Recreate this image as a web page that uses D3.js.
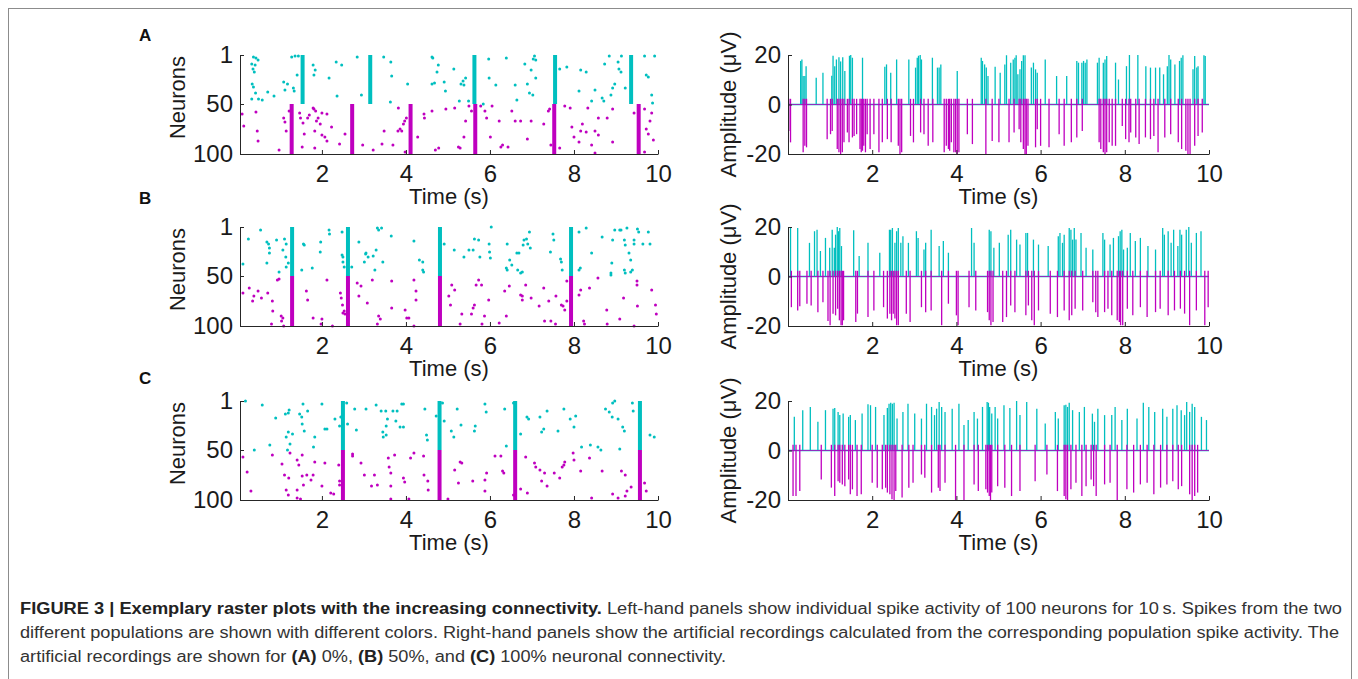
<!DOCTYPE html>
<html><head><meta charset="utf-8">
<script src="https://cdn.jsdelivr.net/npm/d3@7"></script>
<style>
html,body{margin:0;padding:0;background:#fff;}
svg{display:block;font-family:"Liberation Sans",Arial,Helvetica,sans-serif;}
</style></head>
<body>
<svg id="fig" width="1358" height="679"></svg>
<script>
// ---------------- DATA ----------------
const panelLabels = ["A", "B", "C"];
const xTicks = [2, 4, 6, 8, 10];
const neuronTicks = [1, 50, 100];
const ampTicks = [-20, 0, 20];
const xLabel = "Time (s)";
const rasterYLabel = "Neurons";
const ampYLabel = "Amplitude (\u03bcV)";

// population bursts (s)
const burstsA_cyan = [1.54, 3.15, 5.63, 7.55, 9.36];
const burstsA_magenta = [1.28, 2.72, 4.11, 5.65, 7.53, 9.54];
const burstsB_cyan = [1.29, 2.62, 4.81, 7.93];
const burstsB_magenta = [1.29, 2.62, 4.81, 7.93];
const burstsC_cyan = [2.50, 4.80, 6.60, 9.57];
const burstsC_magenta = [2.50, 4.80, 6.60, 9.57];

// scattered raster spikes [time (s), neuron]
const rasterA_cyan = [[0.37,3],[0.43,4],[0.48,6],[0.33,10],[0.41,11],[0.36,15],[0.39,18],[0.34,30],[0.37,33],[0.42,39],[0.33,45],[0.49,45],[0.58,46],[0.71,38],[0.86,42],[1.09,28],[1.12,36],[1.18,30],[1.28,3],[1.36,2],[1.32,34],[1.34,37],[1.41,21],[1.44,2],[1.79,11],[1.81,21],[1.84,16],[2.17,24],[2.34,8],[2.47,11],[2.36,42],[2.84,3],[2.94,41],[3.47,3],[3.64,8],[3.66,22],[3.63,48],[4.04,30],[4.62,3],[4.64,4],[4.77,11],[4.74,18],[4.68,29],[4.62,30],[4.91,28],[4.94,37],[5.14,15],[5.31,30],[5.27,47],[5.36,27],[5.42,24],[5.38,31],[5.49,47],[5.84,50],[5.97,5],[5.98,24],[6.14,31],[6.39,4],[6.60,31],[6.64,46],[6.83,10],[6.89,30],[6.94,39],[6.98,16],[7.03,5],[7.06,2],[7.09,6],[7.09,24],[7.02,41],[7.66,15],[7.83,13],[8.16,16],[8.29,18],[8.12,37],[8.42,47],[8.50,36],[8.67,44],[8.71,47],[8.73,10],[8.84,2],[8.97,30],[9.05,8],[9.07,15],[9.12,18],[9.13,2],[8.88,41],[8.92,34],[9.22,34],[9.68,2],[9.72,21],[9.77,23],[9.92,2],[9.85,41],[9.87,49]];
const rasterA_magenta = [[0.10,60],[0.14,72],[0.43,58],[0.46,77],[0.48,87],[0.98,96],[1.09,64],[1.12,68],[1.15,77],[1.22,57],[1.47,59],[1.49,64],[1.55,69],[1.53,93],[1.58,80],[1.66,64],[1.70,61],[1.79,54],[1.81,55],[1.85,57],[1.87,67],[1.83,77],[1.83,94],[1.91,64],[1.96,70],[2.00,59],[2.00,81],[2.07,83],[2.12,60],[2.23,73],[2.12,87],[2.42,90],[2.55,80],[2.97,91],[3.22,96],[3.43,90],[3.48,77],[3.69,91],[3.81,77],[3.86,75],[3.90,77],[3.94,70],[3.97,67],[4.01,64],[3.82,54],[3.98,98],[4.28,83],[4.43,60],[4.44,64],[4.62,57],[4.70,96],[4.78,94],[4.95,55],[5.16,54],[5.25,93],[5.29,94],[5.38,83],[5.42,67],[5.50,52],[5.56,57],[5.78,52],[5.88,57],[5.92,64],[6.01,83],[6.05,52],[6.22,67],[6.26,93],[6.30,91],[6.43,93],[6.52,57],[6.60,67],[6.73,67],[6.89,85],[6.98,67],[7.28,70],[7.39,57],[7.42,55],[7.45,91],[7.66,94],[7.78,52],[7.91,54],[7.95,73],[8.00,83],[8.12,88],[8.16,77],[8.20,70],[8.29,78],[8.33,54],[8.42,91],[8.50,77],[8.58,81],[8.58,64],[8.79,64],[8.92,55],[8.92,88],[8.50,99],[9.43,59],[9.68,55],[9.72,75],[9.77,80],[9.81,67],[9.85,59],[9.89,86],[9.68,98]];
const rasterB_cyan = [[0.12,38],[0.25,13],[0.54,4],[0.69,16],[0.73,18],[0.75,22],[0.75,27],[0.69,37],[0.92,14],[0.98,46],[1.07,24],[1.11,13],[1.15,18],[1.14,31],[1.20,37],[1.15,41],[1.56,18],[1.58,19],[1.52,44],[1.77,42],[1.97,16],[1.96,26],[2.17,4],[2.18,8],[2.48,6],[2.48,29],[2.50,31],[2.50,36],[2.53,41],[2.71,41],[2.88,16],[3.01,36],[3.04,28],[3.05,27],[3.10,31],[3.22,30],[3.29,24],[3.35,4],[3.32,2],[3.42,2],[3.26,44],[3.45,36],[3.65,10],[4.19,15],[4.32,34],[4.40,36],[4.42,46],[4.40,44],[4.91,18],[5.15,24],[5.38,31],[5.50,24],[5.60,24],[5.63,13],[5.73,14],[5.76,31],[5.98,18],[5.99,26],[6.01,32],[6.03,1],[6.39,42],[6.41,44],[6.41,18],[6.47,34],[6.52,39],[6.64,27],[6.66,44],[6.69,27],[6.73,47],[6.77,46],[6.79,19],[6.81,14],[6.87,13],[6.94,6],[6.96,22],[6.90,18],[7.44,26],[7.50,8],[7.52,14],[7.70,36],[7.68,33],[7.72,44],[8.12,6],[8.15,42],[8.12,44],[8.29,2],[8.42,27],[8.67,11],[8.88,47],[8.90,37],[8.92,14],[8.97,4],[9.09,4],[9.12,4],[9.20,14],[9.22,19],[9.26,2],[9.31,27],[9.35,34],[9.39,44],[9.35,46],[9.43,14],[9.43,18],[9.51,3],[9.54,6],[9.64,18],[9.77,6],[9.81,18],[9.20,44],[9.22,47],[8.88,49]];
const rasterB_magenta = [[0.12,67],[0.27,62],[0.38,70],[0.48,65],[0.35,75],[0.56,72],[0.71,67],[0.82,75],[0.83,85],[0.94,54],[0.98,53],[0.80,98],[1.03,90],[1.07,92],[1.04,95],[1.09,100],[1.63,65],[1.66,74],[1.79,92],[2.00,93],[1.98,98],[2.12,54],[2.25,100],[2.46,72],[2.49,79],[2.50,87],[2.55,88],[2.53,85],[2.44,67],[2.84,57],[2.88,70],[3.08,77],[2.93,60],[3.20,54],[3.35,90],[3.39,93],[3.32,98],[3.66,55],[3.66,82],[3.98,84],[4.02,92],[4.07,92],[4.19,54],[4.24,65],[4.24,74],[4.19,100],[5.02,70],[5.06,79],[5.09,59],[5.16,64],[5.29,98],[5.33,88],[5.56,88],[5.60,82],[5.63,79],[5.67,59],[5.73,54],[5.80,59],[5.81,98],[5.87,90],[5.97,74],[6.22,97],[6.35,65],[6.39,90],[6.46,60],[6.77,70],[6.73,69],[6.77,74],[6.85,59],[6.98,72],[7.17,80],[7.28,62],[7.30,95],[7.45,95],[7.56,98],[7.40,75],[7.57,70],[7.70,79],[7.74,80],[7.78,84],[7.83,75],[7.83,55],[8.12,69],[8.23,95],[8.25,98],[8.16,64],[8.37,62],[8.57,52],[8.78,84],[8.79,98],[9.09,93],[9.18,72],[9.43,100],[9.51,80],[9.50,55],[9.50,59],[9.85,64],[9.94,79],[9.96,88]];
const rasterC_cyan = [[0.18,1],[0.58,5],[0.39,50],[0.76,45],[0.90,18],[1.13,14],[1.20,13],[1.22,10],[1.15,37],[1.20,32],[1.24,44],[1.30,34],[1.18,50],[1.47,14],[1.52,17],[1.55,4],[1.53,24],[1.58,31],[1.66,11],[1.83,37],[1.80,47],[2.00,4],[2.07,29],[2.12,29],[2.31,19],[2.42,26],[2.45,17],[2.59,3],[2.61,24],[2.78,9],[2.82,30],[3.05,9],[3.29,5],[3.41,11],[3.52,11],[3.53,26],[3.56,19],[3.53,35],[3.45,32],[3.46,37],[3.69,11],[3.76,21],[3.79,11],[3.90,4],[3.94,4],[3.86,27],[3.94,27],[4.45,9],[4.49,35],[4.51,40],[4.72,16],[4.87,3],[4.91,21],[5.08,31],[5.14,37],[5.22,9],[5.31,25],[5.65,26],[5.63,31],[5.88,4],[5.91,12],[6.35,9],[6.39,46],[6.56,3],[6.73,34],[6.88,17],[6.92,19],[7.19,17],[7.23,32],[7.28,29],[7.36,11],[7.62,31],[7.76,9],[7.91,19],[8.00,27],[8.04,16],[8.18,47],[8.39,45],[8.57,47],[8.64,50],[8.75,9],[8.84,12],[8.91,17],[8.92,3],[8.97,1],[9.05,19],[9.09,49],[9.16,27],[9.20,31],[9.39,3],[9.41,11],[9.81,35],[9.91,37]];
const rasterC_magenta = [[0.12,57],[0.22,72],[0.31,91],[0.82,55],[1.05,64],[1.11,75],[1.21,78],[1.24,53],[1.15,90],[1.20,95],[1.41,60],[1.45,65],[1.53,55],[1.53,76],[1.56,85],[1.41,90],[1.41,98],[1.49,99],[1.64,75],[1.74,80],[1.79,75],[1.83,62],[2.00,86],[2.07,63],[2.21,93],[2.28,94],[2.40,65],[2.42,81],[2.42,85],[2.73,54],[2.73,56],[2.93,63],[3.01,75],[3.25,75],[3.18,86],[3.32,85],[3.58,58],[3.60,67],[3.64,73],[3.64,86],[3.64,99],[3.73,55],[3.94,78],[3.97,82],[4.07,99],[4.19,53],[4.11,58],[4.42,56],[4.43,75],[4.52,81],[4.53,90],[5.00,99],[5.16,70],[5.25,83],[5.29,62],[5.33,63],[5.59,81],[5.88,80],[5.88,91],[5.92,73],[6.12,56],[6.26,56],[6.30,71],[6.33,73],[6.56,95],[6.73,89],[6.85,57],[6.89,93],[7.06,63],[7.09,67],[7.19,70],[7.23,81],[7.30,73],[7.36,86],[7.53,73],[7.66,78],[7.72,67],[7.76,65],[7.78,62],[7.98,53],[8.00,60],[8.16,71],[8.37,58],[8.42,98],[8.67,71],[8.92,94],[9.05,98],[9.13,71],[9.22,75],[9.22,96],[9.26,91],[9.36,87],[9.68,83],[9.72,91]];

// artificial recordings: spike [time (s), peak amplitude (uV)]
const spikesA_cyan = [[0.30,17.6],[0.33,18.2],[0.36,11.5],[0.40,11.5],[0.43,15.5],[0.67,10.8],[0.83,12.8],[1.04,11.6],[1.07,19.7],[1.11,15.5],[1.15,18.2],[1.21,19.1],[1.25,17.4],[1.30,19.1],[1.35,13.5],[1.46,19.7],[1.49,20],[1.53,18.9],[1.77,18.9],[2.30,15.3],[2.34,16.2],[2.44,12.8],[2.58,18.2],[2.87,18.2],[3.03,14.9],[3.07,18.9],[3.10,19.7],[3.14,20],[3.17,18.2],[3.43,18.9],[3.55,14.9],[3.59,14.9],[3.63,16.2],[4.02,13.5],[4.59,18.9],[4.62,17.6],[4.67,16.2],[4.71,14.9],[4.75,11.5],[4.92,15.3],[5.04,12.8],[5.15,16.2],[5.19,19.9],[5.29,16.9],[5.35,18.2],[5.39,18.9],[5.42,19.9],[5.46,12.2],[5.51,14.2],[5.55,17.6],[5.59,19.9],[5.63,19.9],[5.78,14.9],[5.83,16.9],[5.88,14.2],[5.92,12.8],[6.11,18.2],[6.38,11.5],[6.62,11.5],[6.86,17.6],[6.90,16.9],[6.98,16.9],[7.02,17.6],[7.06,16.9],[7.10,18.2],[7.35,16.9],[7.39,18.9],[7.49,16.9],[7.53,18.2],[7.57,19.6],[7.78,16.9],[7.85,10.1],[8.04,15.5],[8.11,20],[8.31,20],[8.50,15.5],[8.61,14.9],[8.73,14.9],[8.83,14.9],[8.92,12.2],[9.01,15.5],[9.05,20],[9.09,18.2],[9.19,16.2],[9.30,17.6],[9.34,18.9],[9.38,19.9],[9.62,14.2],[9.66,19.6],[9.71,14.9],[9.74,15.5],[9.88,19.9],[9.91,19.6]];
const spikesA_magenta = [[0.02,-10.7],[0.06,-15.3],[0.36,-19.3],[0.40,-16.7],[0.44,-17.3],[0.93,-14],[1.01,-12],[1.05,-10.7],[1.17,-18],[1.21,-19.3],[1.25,-20],[1.29,-19.3],[1.33,-15.3],[1.41,-11.3],[1.45,-15.3],[1.53,-13.3],[1.57,-12.7],[1.63,-12],[1.71,-18],[1.74,-19.3],[1.77,-18.7],[1.80,-16.7],[1.84,-19.3],[1.88,-12],[1.95,-18],[2.04,-12],[2.16,-19.3],[2.24,-15.3],[2.36,-14],[2.45,-15.3],[2.62,-16.7],[2.66,-20],[2.70,-19.3],[2.91,-12.7],[2.98,-15.3],[3.15,-11.3],[3.23,-12],[3.33,-16.7],[3.44,-15.3],[3.71,-19.3],[3.76,-16.7],[3.81,-18],[3.84,-18.7],[3.88,-15.3],[3.94,-19.3],[3.98,-19.3],[4.02,-20],[4.06,-19.3],[4.26,-12],[4.38,-16],[4.70,-20],[4.85,-14.7],[5.01,-15.3],[5.25,-15.3],[5.37,-11.3],[5.49,-10],[5.53,-15.3],[5.59,-18],[5.63,-20],[5.66,-20],[5.70,-16.7],[5.88,-17.3],[5.92,-10],[6.00,-16.7],[6.20,-17.3],[6.44,-12],[6.56,-16.7],[6.73,-15.3],[6.86,-13.3],[6.99,-10.7],[7.39,-15.3],[7.43,-18],[7.49,-19.3],[7.53,-20],[7.57,-19.3],[7.63,-15.3],[7.70,-16.7],[7.78,-16.7],[7.94,-8.7],[8.02,-14],[8.10,-15.3],[8.14,-11.3],[8.26,-13.3],[8.34,-16],[8.49,-13.3],[8.61,-14],[8.69,-12.7],[8.79,-19.3],[8.95,-13.3],[9.09,-12],[9.27,-15.3],[9.35,-18],[9.45,-18.7],[9.50,-20],[9.55,-20],[9.66,-16.7],[9.74,-12.7],[9.84,-11.3]];
const spikesB_cyan = [[0.06,20],[0.23,19.6],[0.51,13.6],[0.63,18.3],[0.69,18.9],[0.77,10.3],[0.89,15.6],[0.99,11.6],[1.05,18.9],[1.10,11.6],[1.13,16.9],[1.17,20],[1.20,18.3],[1.23,19.6],[1.27,12.3],[1.56,18.7],[1.69,8.3],[1.90,13.6],[2.18,9.6],[2.41,18.9],[2.44,18.9],[2.48,19.6],[2.54,13.6],[2.58,18.3],[2.62,19.6],[2.68,13.6],[2.73,16.3],[2.86,13.6],[3.05,18.3],[3.09,15.6],[3.23,10.9],[3.27,13.6],[3.40,18.9],[3.59,12.3],[3.69,14.3],[3.81,9.6],[4.36,19.6],[4.42,13.6],[4.78,18.9],[4.82,18.3],[4.89,11.6],[5.02,13.6],[5.23,16.9],[5.29,18.9],[5.43,14.9],[5.51,12.9],[5.65,17.6],[5.69,17.6],[5.83,14.9],[5.95,12.9],[6.18,12.3],[6.42,16.3],[6.46,17.6],[6.52,13.6],[6.56,16.9],[6.68,19.6],[6.72,18.9],[6.76,14.9],[6.80,19.6],[6.84,14.9],[6.96,17.6],[7.08,11.6],[7.24,10.9],[7.48,17.6],[7.52,14.9],[7.65,12.9],[7.73,15.6],[7.85,16.3],[7.89,18.3],[7.93,18.9],[7.97,10.9],[8.06,11.6],[8.13,17.6],[8.25,14.3],[8.37,15.6],[8.55,12.3],[8.73,10.9],[8.90,19.6],[8.94,16.9],[9.03,18.3],[9.10,13.6],[9.16,18.9],[9.26,12.3],[9.31,18.9],[9.35,16.9],[9.46,18.9],[9.52,20],[9.58,13.6],[9.70,17.6],[9.81,18.3]];
const spikesB_magenta = [[0.08,-12.4],[0.23,-13.7],[0.28,-12],[0.45,-11],[0.55,-11.7],[0.71,-14.4],[0.83,-10.4],[0.95,-18],[1.00,-19.7],[1.07,-15],[1.13,-15.7],[1.18,-13],[1.22,-17.7],[1.26,-19.7],[1.29,-19.7],[1.32,-17.7],[1.61,-18.4],[1.65,-15],[1.90,-16.4],[2.04,-13.7],[2.27,-12.4],[2.36,-17],[2.42,-15],[2.46,-17.7],[2.50,-15],[2.54,-17],[2.58,-19.7],[2.62,-19.7],[2.81,-15],[2.90,-18.4],[3.17,-12.4],[3.27,-14.4],[3.40,-13.7],[3.65,-19.7],[3.81,-11],[4.00,-15.7],[4.04,-19.7],[4.30,-12.4],[4.46,-13.7],[4.74,-14.4],[4.78,-17.7],[4.82,-19.7],[4.87,-18.4],[5.10,-18.4],[5.19,-16.4],[5.29,-11.7],[5.39,-14.4],[5.65,-15.7],[5.71,-11.7],[5.79,-17.7],[5.85,-19.7],[5.95,-13.7],[6.23,-15],[6.40,-16.4],[6.56,-13.7],[6.68,-17.7],[6.74,-15.7],[6.82,-13],[7.00,-13.7],[7.24,-10.4],[7.31,-14.4],[7.36,-16.4],[7.52,-14.4],[7.60,-13],[7.69,-15.7],[7.82,-17.7],[7.87,-18.4],[7.90,-19.7],[7.95,-19.7],[8.06,-13],[8.19,-15.7],[8.37,-12.4],[8.53,-16.4],[8.73,-14.4],[8.84,-13],[9.03,-15.7],[9.18,-13.7],[9.32,-13],[9.42,-15],[9.54,-19.7],[9.70,-13.7],[9.90,-19.7],[9.98,-12.4]];
const spikesC_cyan = [[0.15,13.6],[0.35,16.3],[0.53,17.6],[0.71,11.6],[0.89,16.3],[1.07,16.9],[1.11,17.2],[1.19,15.6],[1.23,14.3],[1.31,14.9],[1.44,13.6],[1.48,14.3],[1.60,12.3],[1.76,14.9],[1.90,18.7],[1.96,18.3],[2.08,17.6],[2.28,14.3],[2.36,17.2],[2.40,18.9],[2.44,19.3],[2.48,18.9],[2.52,19.3],[2.59,12.9],[2.73,15.6],[2.85,18.9],[3.01,14.9],[3.17,12.9],[3.29,18.9],[3.41,17.6],[3.48,14.3],[3.53,16.9],[3.59,19.6],[3.65,17.6],[3.73,15.6],[3.90,16.9],[4.06,18.9],[4.18,10.3],[4.28,12.3],[4.42,15.6],[4.50,12.9],[4.62,17.6],[4.73,19.6],[4.76,19.3],[4.79,17.6],[4.84,14.9],[4.92,17.6],[4.98,12.9],[5.13,18.3],[5.27,17.2],[5.43,20],[5.51,14.3],[5.67,19.6],[5.91,16.9],[6.11,10.9],[6.35,15.6],[6.42,12.9],[6.56,18.3],[6.60,18.5],[6.64,17.6],[6.68,19.3],[6.76,16.3],[6.92,15.6],[7.04,17.6],[7.23,14.9],[7.28,11.6],[7.36,16.9],[7.52,14.3],[7.69,14.3],[7.77,17.6],[7.93,12.3],[8.06,16.9],[8.29,12.9],[8.44,19.3],[8.57,17.6],[8.71,15.6],[8.90,16.9],[9.00,13.6],[9.14,16.9],[9.24,18.3],[9.34,16.3],[9.42,14.3],[9.47,19.6],[9.54,15.6],[9.60,18.9],[9.66,17.6],[9.82,13.6],[9.94,12.3]];
const spikesC_magenta = [[0.12,-18.4],[0.19,-18.4],[0.28,-16.4],[0.79,-11.7],[1.03,-15],[1.11,-18.4],[1.19,-12.4],[1.23,-13],[1.29,-13.7],[1.35,-14.4],[1.44,-11.7],[1.48,-17.7],[1.53,-15.7],[1.64,-18.4],[1.74,-17.7],[2.00,-13],[2.12,-15],[2.24,-15.7],[2.32,-15],[2.36,-17],[2.42,-17.7],[2.47,-19.7],[2.52,-20],[2.56,-16.4],[2.71,-19],[2.87,-15],[2.97,-13],[3.17,-9.7],[3.25,-11],[3.41,-17],[3.57,-15],[3.61,-16.4],[3.73,-13],[3.98,-20],[4.18,-20],[4.42,-13.7],[4.52,-16.4],[4.70,-15.7],[4.74,-17],[4.78,-18.4],[4.81,-20],[4.84,-17],[4.98,-14.4],[5.15,-15],[5.31,-18.4],[5.51,-16.4],[5.87,-12.4],[6.15,-9.7],[6.40,-16.4],[6.56,-18.4],[6.60,-19.7],[6.64,-20],[6.72,-15.7],[6.84,-13],[6.98,-18.4],[7.08,-14.4],[7.20,-11.7],[7.26,-14.4],[7.32,-18.4],[7.52,-13.7],[7.65,-13],[7.82,-20],[8.05,-15.7],[8.21,-17],[8.37,-13.7],[8.53,-13],[8.69,-17.7],[8.85,-15],[9.00,-13.7],[9.14,-12.4],[9.27,-15.7],[9.35,-14.4],[9.54,-17.7],[9.60,-20],[9.66,-18.4],[9.73,-17]];
const magentaOvershoot = 2.3; // small positive deflection of each spike of the second population (uV)

const captionBold1 = "FIGURE 3 | Exemplary raster plots with the increasing connectivity.";
const captionLine1 = " Left-hand panels show individual spike activity of 100 neurons for 10\u2009s. Spikes from the two";
const captionLine2 = "different populations are shown with different colors. Right-hand panels show the artificial recordings calculated from the corresponding population spike activity. The";
const captionLine3 = [["artificial recordings are shown for ", false], ["(A)", true], [" 0%, ", false], ["(B)", true], [" 50%, and ", false], ["(C)", true], [" 100% neuronal connectivity.", false]];

// ---------------- LAYOUT / STYLE ----------------
const CYAN = "#00bfbf", MAGENTA = "#bf00bf", AXIS = "#262626";
const panelTops = [55, 227, 401];
const panelH = 99;
const rasterRange = [240, 658], rasterDomain = [0.05, 10];
const ampRange = [788, 1209], ampDomain = [0, 10];
const labelY = [35, 198, 378];

const panels = [
  {cyanR: rasterA_cyan, magR: rasterA_magenta, cyanB: burstsA_cyan, magB: burstsA_magenta, cyanS: spikesA_cyan, magS: spikesA_magenta},
  {cyanR: rasterB_cyan, magR: rasterB_magenta, cyanB: burstsB_cyan, magB: burstsB_magenta, cyanS: spikesB_cyan, magS: spikesB_magenta},
  {cyanR: rasterC_cyan, magR: rasterC_magenta, cyanB: burstsC_cyan, magB: burstsC_magenta, cyanS: spikesC_cyan, magS: spikesC_magenta}
];

const svg = d3.select("#fig");
svg.append("rect").attr("x", 8.5).attr("y", 8.5).attr("width", 1343).attr("height", 720)
  .attr("fill", "none").attr("stroke", "#8c8c8c").attr("stroke-width", 1);

function styleAxis(g) {
  g.selectAll(".domain").attr("stroke", AXIS).attr("stroke-width", 1);
  g.selectAll(".tick line").attr("stroke", AXIS).attr("stroke-width", 1);
  g.selectAll(".tick text").attr("fill", "#1a1a1a").attr("font-size", 24)
    .attr("font-family", "'Liberation Sans',Arial,Helvetica,sans-serif");
}

panels.forEach((p, i) => {
  const top = panelTops[i], bottom = top + panelH;

  // ---- panel letter
  svg.append("text").attr("x", 139).attr("y", labelY[i]).attr("dy", "0.36em")
    .attr("font-size", 17).attr("font-weight", "bold").attr("fill", "#111").text(panelLabels[i]);

  // ---- raster
  const x = d3.scaleLinear().domain(rasterDomain).range(rasterRange);
  const y = d3.scaleLinear().domain([1, 100]).range([top, bottom]);
  const gr = svg.append("g");
  gr.append("g").selectAll("rect").data(p.cyanB).join("rect")
    .attr("x", d => x(d) - 2).attr("width", 4)
    .attr("y", y(1)).attr("height", y(50) - y(1)).attr("fill", CYAN);
  gr.append("g").selectAll("rect").data(p.magB).join("rect")
    .attr("x", d => x(d) - 2).attr("width", 4)
    .attr("y", y(50)).attr("height", y(100) - y(50)).attr("fill", MAGENTA);
  gr.append("g").selectAll("circle").data(p.cyanR).join("circle")
    .attr("cx", d => x(d[0])).attr("cy", d => y(d[1])).attr("r", 1.5).attr("fill", CYAN);
  gr.append("g").selectAll("circle").data(p.magR).join("circle")
    .attr("cx", d => x(d[0])).attr("cy", d => y(d[1])).attr("r", 1.5).attr("fill", MAGENTA);

  const ax = svg.append("g").attr("transform", `translate(0,${bottom})`)
    .call(d3.axisBottom(x).tickValues(xTicks).tickSizeInner(-4).tickSizeOuter(0).tickPadding(11).tickFormat(d3.format("d")));
  styleAxis(ax);
  const ay = svg.append("g").attr("transform", `translate(${rasterRange[0]},0)`)
    .call(d3.axisLeft(y).tickValues(neuronTicks).tickSizeInner(-4).tickSizeOuter(0).tickPadding(7).tickFormat(d3.format("d")));
  styleAxis(ay);

  svg.append("text").attr("x", (rasterRange[0] + rasterRange[1]) / 2).attr("y", bottom + 50)
    .attr("text-anchor", "middle").attr("font-size", 22).attr("fill", "#1a1a1a").text(xLabel);
  svg.append("text").attr("transform", `translate(177,${(top + bottom) / 2 - 7}) rotate(-90)`)
    .attr("text-anchor", "middle").attr("dominant-baseline", "central")
    .attr("font-size", 22).attr("fill", "#1a1a1a").text(rasterYLabel);

  // ---- amplitude trace
  const x2 = d3.scaleLinear().domain(ampDomain).range(ampRange);
  const y2 = d3.scaleLinear().domain([-20, 20]).range([bottom, top]);
  const gs = svg.append("g");
  gs.append("line").attr("x1", x2(0)).attr("x2", x2(10)).attr("y1", y2(0)).attr("y2", y2(0))
    .attr("stroke", CYAN).attr("stroke-width", 1.3);
  gs.append("g").selectAll("line").data(p.cyanS).join("line")
    .attr("x1", d => x2(d[0])).attr("x2", d => x2(d[0]))
    .attr("y1", y2(0)).attr("y2", d => y2(d[1]))
    .attr("stroke", CYAN).attr("stroke-width", 1.3);
  gs.append("line").attr("x1", x2(0)).attr("x2", x2(10)).attr("y1", y2(0)).attr("y2", y2(0))
    .attr("stroke", MAGENTA).attr("stroke-width", 1.1).attr("opacity", 0.75);
  gs.append("g").selectAll("line").data(p.magS).join("line")
    .attr("x1", d => x2(d[0])).attr("x2", d => x2(d[0]))
    .attr("y1", y2(magentaOvershoot)).attr("y2", d => y2(d[1]))
    .attr("stroke", MAGENTA).attr("stroke-width", 1.3);

  const bx = svg.append("g").attr("transform", `translate(0,${bottom})`)
    .call(d3.axisBottom(x2).tickValues(xTicks).tickSizeInner(-4).tickSizeOuter(0).tickPadding(11).tickFormat(d3.format("d")));
  styleAxis(bx);
  const by = svg.append("g").attr("transform", `translate(${ampRange[0]},0)`)
    .call(d3.axisLeft(y2).tickValues(ampTicks).tickSizeInner(-4).tickSizeOuter(0).tickPadding(7).tickFormat(d => String(d)));
  styleAxis(by);

  svg.append("text").attr("x", (ampRange[0] + ampRange[1]) / 2).attr("y", bottom + 50)
    .attr("text-anchor", "middle").attr("font-size", 22).attr("fill", "#1a1a1a").text(xLabel);
  svg.append("text").attr("transform", `translate(728,${(top + bottom) / 2}) rotate(-90)`)
    .attr("text-anchor", "middle").attr("dominant-baseline", "central")
    .attr("font-size", 22).attr("fill", "#1a1a1a").text(ampYLabel);
});

// ---- caption
const cap = svg.append("g").attr("font-size", 16).attr("fill", "#333");
const t1 = cap.append("text").attr("x", 20).attr("y", 614).attr("textLength", 1322).attr("lengthAdjust", "spacingAndGlyphs");
t1.append("tspan").attr("font-weight", "bold").attr("fill", "#222").text(captionBold1);
t1.append("tspan").text(captionLine1);
cap.append("text").attr("x", 20).attr("y", 638).attr("textLength", 1319).attr("lengthAdjust", "spacingAndGlyphs").text(captionLine2);
const t3 = cap.append("text").attr("x", 20).attr("y", 662).attr("textLength", 706).attr("lengthAdjust", "spacingAndGlyphs");
captionLine3.forEach(([s, b]) => {
  const ts = t3.append("tspan").text(s);
  if (b) ts.attr("font-weight", "bold").attr("fill", "#222");
});
</script>
</body></html>
